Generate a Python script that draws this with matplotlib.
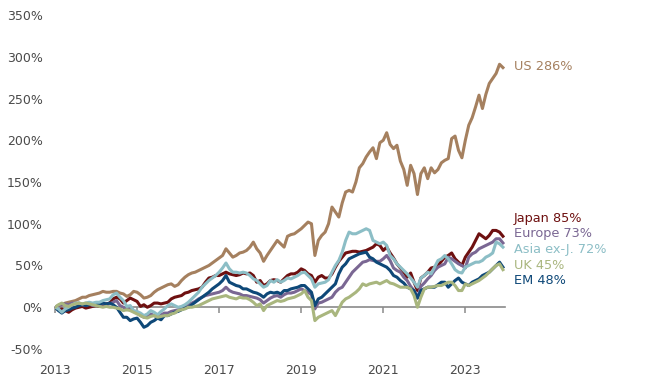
import numpy as np
import matplotlib
matplotlib.use("Agg")
import matplotlib.pyplot as plt

# cumulative return (%), monthly, first point = start of chart
us = [0, 2, 3, 5, 6, 7, 8, 10, 12, 12, 14, 15,
      16, 17, 19, 18, 18, 19, 19, 17, 16, 13, 15, 19,
      18, 15, 11, 12, 14, 18, 21, 23, 25, 27, 28, 25,
      27, 32, 36, 39, 41, 42, 44, 46, 48, 50, 53, 56,
      59, 62, 70, 65, 60, 62, 65, 66, 68, 72, 78, 70,
      65, 55, 62, 68, 74, 80, 76, 72, 85, 87, 88, 91,
      94, 98, 102, 100, 62, 80, 86, 90, 100, 120, 114, 108,
      125, 138, 140, 138, 150, 167, 172, 180, 186, 191, 178, 197,
      200, 209, 195, 190, 194, 175, 165, 146, 170, 160, 135, 160,
      167, 154, 167, 161, 165, 173, 176, 178, 202, 205, 188, 179,
      200, 218, 227, 240, 254, 238, 255, 268, 274, 280, 291, 287]

japan = [0, -3, -2, -4, -6, -3, -1, 0, 1, -1, 0, 1,
         2, 1, 3, 4, 5, 10, 12, 10, 5, 8, 11, 9,
         7, 1, 3, 0, 2, 5, 5, 4, 5, 6, 10, 12,
         13, 14, 17, 18, 20, 21, 22, 24, 30, 35, 36, 38,
         38, 40, 42, 40, 39, 38, 39, 41, 40, 41, 38, 30,
         32, 26, 28, 32, 33, 32, 30, 34, 38, 40, 40, 42,
         46, 44, 40, 38, 30, 36, 38, 35, 35, 40, 48, 55,
         60, 65, 66, 67, 67, 66, 67, 68, 70, 72, 76, 74,
         68, 72, 65, 59, 52, 47, 42, 36, 41, 30, 20, 35,
         38, 42, 47, 48, 50, 55, 60, 62, 65, 58, 54, 50,
         60, 66, 72, 80, 88, 85, 82, 86, 92, 92, 90, 85]

europe = [0, 2, 3, 4, 3, 5, 4, 5, 3, 2, 4, 2,
          2, 3, 4, 3, 4, 6, 8, 2, 0, -3, -1, -5,
          -6, -10, -12, -11, -8, -10, -12, -9, -7, -7, -5, -4,
          -3, -1, 1, 3, 5, 7, 10, 12, 14, 15, 16, 17,
          18, 20, 24, 20, 18, 17, 16, 14, 14, 13, 12, 11,
          9, 5, 8, 11, 13, 14, 12, 15, 17, 17, 18, 20,
          22, 20, 18, 15, -2, 5, 6, 8, 10, 12, 18, 22,
          24, 30, 36, 42, 46, 50, 54, 55, 57, 56, 55, 55,
          58, 62, 56, 47, 44, 42, 36, 32, 25, 20, 11, 25,
          29, 34, 38, 44, 48, 50, 52, 60, 58, 55, 52, 50,
          47, 60, 64, 66, 70, 72, 74, 76, 78, 82, 82, 77]

asia = [0, -2, -6, -2, 0, 3, 5, 5, 4, 5, 6, 5,
        6, 6, 8, 9, 10, 15, 17, 12, 8, 1, 2, -4,
        -5, -7, -10, -8, -4, -6, -9, -5, -2, 2, 4, 2,
        0, 1, 3, 6, 10, 14, 18, 24, 28, 32, 35, 38,
        42, 47, 53, 46, 42, 42, 41, 42, 41, 38, 34, 32,
        28, 24, 26, 32, 30, 33, 30, 32, 35, 34, 36, 38,
        41, 42, 38, 34, 24, 28, 29, 30, 33, 42, 50, 56,
        66, 80, 90, 88, 88, 90, 92, 94, 92, 80, 78, 76,
        78, 74, 62, 58, 52, 48, 44, 40, 35, 30, 24, 35,
        38, 42, 40, 48, 56, 58, 62, 58, 52, 45, 42, 41,
        48, 50, 52, 54, 54, 56, 60, 62, 65, 78, 76, 72]

uk = [0, 3, 5, 2, 1, 3, 4, 5, 4, 5, 4, 3,
      2, 1, 0, 1, 0, 0, -1, -2, -4, -3, -4, -6,
      -8, -10, -12, -13, -11, -10, -12, -11, -10, -10, -8, -7,
      -4, -3, -2, 0, 0, 1, 2, 4, 6, 8, 10, 11,
      12, 13, 14, 12, 11, 10, 12, 11, 11, 9, 6, 2,
      4, -4, 2, 4, 6, 8, 7, 8, 10, 11, 12, 14,
      16, 20, 12, 8, -16, -12, -10, -8, -6, -4, -10, -2,
      6, 10, 12, 15, 18, 22, 28, 26, 28, 29, 30, 28,
      30, 32, 29, 28, 26, 24, 24, 24, 22, 14, 0, 12,
      22, 24, 24, 25, 26, 26, 28, 30, 30, 26, 20, 20,
      28, 26, 28, 30, 32, 35, 38, 42, 46, 50, 52, 45]

em = [0, -4, -7, -4, -3, -1, 0, 2, 3, 2, 3, 4,
      3, 4, 5, 4, 5, 3, 0, -6, -12, -12, -16, -14,
      -13, -18, -24, -22, -18, -16, -13, -15, -10, -10, -8, -6,
      -5, -3, -1, 0, 3, 6, 9, 12, 15, 18, 22, 25,
      28, 32, 38, 30, 28, 26, 25, 22, 22, 20, 18, 17,
      15, 12, 16, 18, 17, 18, 16, 20, 20, 22, 23, 24,
      26, 26, 22, 18, 2, 10, 12, 16, 20, 24, 28, 40,
      48, 52, 58, 60, 62, 64, 65, 66, 60, 58, 54, 52,
      50, 48, 44, 38, 36, 32, 29, 24, 22, 20, 11, 20,
      22, 24, 24, 24, 27, 30, 30, 24, 28, 32, 35, 30,
      28, 26, 30, 32, 34, 38, 40, 42, 46, 50, 54, 48]

year_labels = ["2013", "2015", "2017", "2019", "2021", "2023"]
end_labels = ["US 286%", "Japan 85%", "Europe 73%", "Asia ex-J. 72%", "UK 45%", "EM 48%"]

C_US = "#A5805F"
C_JP = "#6E1010"
C_EU = "#7A6793"
C_AS = "#8CBEC6"
C_UK = "#A9B67E"
C_EM = "#0E4878"

months = np.arange(len(us))

fig = plt.figure(figsize=(6.5, 3.88), dpi=100)
ax = fig.add_axes([55 / 650, 39 / 388, 450 / 650, 334 / 388])

lw = 2.2
ax.plot(months, us, color=C_US, lw=lw)
ax.plot(months, japan, color=C_JP, lw=lw)
ax.plot(months, europe, color=C_EU, lw=lw)
ax.plot(months, em, color=C_EM, lw=lw)
ax.plot(months, asia, color=C_AS, lw=lw)
ax.plot(months, uk, color=C_UK, lw=lw)

ax.set_xlim(0, 131.6)
ax.set_ylim(-50, 350)

# zero line acts as the x axis, labels pushed down to the bottom
for s in ["top", "right", "left"]:
    ax.spines[s].set_visible(False)
ax.spines["bottom"].set_position(("data", 0))
ax.spines["bottom"].set_color("#8a8a8a")
ax.spines["bottom"].set_linewidth(1.2)
ax.spines["bottom"].set_zorder(0)

ax.set_xticks(np.arange(0, 132, 24))
ax.set_xticklabels(year_labels)
ax.tick_params(axis="x", direction="out", length=4, width=1.1, color="#8a8a8a",
               pad=37, labelsize=9, labelcolor="#4a4a4a")

ax.set_yticks(np.arange(-50, 351, 50))
ax.set_yticklabels([f"{v}%" for v in range(-50, 351, 50)])
ax.tick_params(axis="y", length=0, pad=9, labelsize=9, labelcolor="#4a4a4a")

label_y = [67, 218.5, 234, 249.5, 265.5, 280.5]
label_c = [C_US, C_JP, C_EU, C_AS, C_UK, C_EM]
for txt, yp, c in zip(end_labels, label_y, label_c):
    fig.text(514 / 650, 1 - yp / 388, txt, color=c, fontsize=9.3,
             ha="left", va="center")

fig.savefig("out.png", dpi=100)
